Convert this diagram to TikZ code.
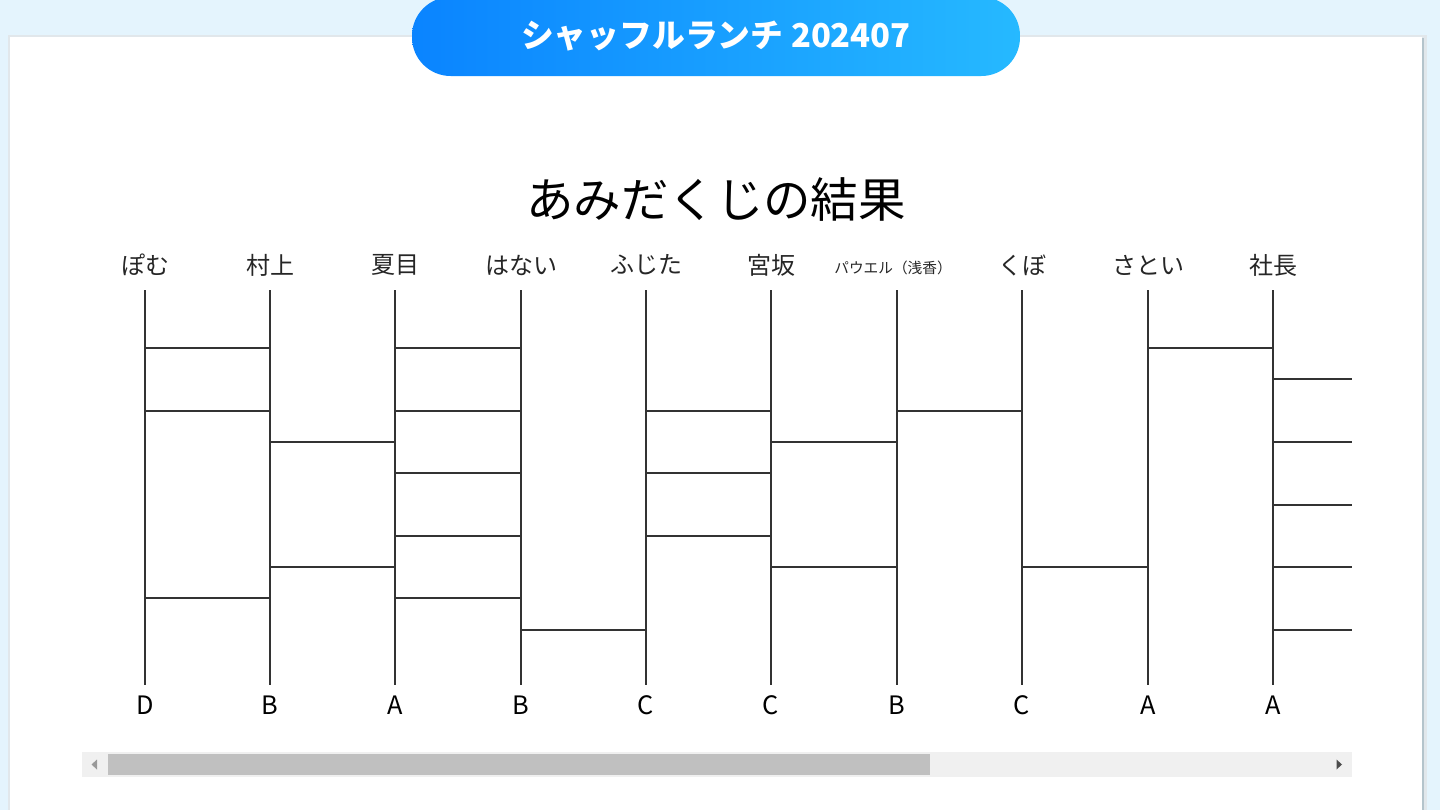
\documentclass[tikz,border=0pt]{standalone}
\usepackage{fontspec}
\usetikzlibrary{calc}
\setmainfont{Noto Sans CJK JP}
\definecolor{bgblue}{HTML}{E4F4FD}
\definecolor{pillL}{HTML}{0A84FF}
\definecolor{pillR}{HTML}{26B9FF}
\definecolor{ink}{HTML}{333333}
\definecolor{track}{HTML}{F0F0F0}
\definecolor{thumb}{HTML}{C0C0C0}
\definecolor{shadowc}{HTML}{B4C4CC}
\tikzset{
  rail/.style={draw=ink, line width=1.4pt},
  rung/.style={draw=ink, line width=1.4pt},
  toplabel/.style={font=\fontsize{18}{18}\selectfont, text=black!85, inner sep=0pt, anchor=center},
  botlabel/.style={font=\fontsize{19}{19}\selectfont, text=black, inner sep=0pt, anchor=center},
}
\begin{document}
\begin{tikzpicture}[x=0.75pt,y=-0.75pt]
\useasboundingbox (0,0) rectangle (1440,810);
\fill[bgblue] (0,0) rectangle (1440,810);
% card shadow and card
\fill[shadowc!40] (8,35) rectangle (1427,812);
\fill[shadowc] (11,38) rectangle (1424,812);
\fill[white] (10,37) rectangle (1422,812);
% pill header
\shade[left color=pillL, right color=pillR, rounded corners=29pt] (412,-3) rectangle (1020,76);
\node[font=\fontsize{24.6}{24.6}\selectfont\bfseries, text=white, inner sep=0pt] (hdr) at (716,36) {シャッフルランチ 202407};
% title
\node[font=\fontsize{35.6}{35.6}\selectfont, text=black, inner sep=0pt] (title) at (716,200) {あみだくじの結果};
% columns
\foreach \i/\x/\res in {0/145/D,1/270/B,2/395/A,3/521/B,4/646/C,5/771/C,6/897/B,7/1022/C,8/1148/A,9/1273/A}{
  \coordinate (t\i) at (\x,290);
  \coordinate (b\i) at (\x,685);
  \node[botlabel] (r\i) at (\x,705) {\res};
  \draw[rail] (t\i) -- (b\i);
}
\foreach \i/\x/\nm in {0/145/ぽむ,1/270/村上,2/395/夏目,3/521/はない,4/646/ふじた,5/771/宮坂,7/1022/くぼ,8/1148/さとい,9/1273/社長}{
  \node[toplabel] (n\i) at (\x,265) {\nm};
}
\node[font=\fontsize{11}{11}\selectfont, text=black!85, inner sep=0pt] (n6) at (893,268) {パウエル（浅香）};
\coordinate (t10) at (1352,290);
% rungs: column index and row index (y = 348 + k*31.3)
\foreach \c/\k in {0/0,0/2,0/8,
                   1/3,1/7,
                   2/0,2/2,2/4,2/6,2/8,
                   3/9,
                   4/2,4/4,4/6,
                   5/3,5/7,
                   6/2,
                   7/7,
                   8/0,
                   9/1,9/3,9/5,9/7,9/9}{
  \pgfmathtruncatemacro{\d}{\c+1}
  \pgfmathtruncatemacro{\off}{round(58+\k*31.3)}
  \draw[rung] ($(t\c)+(0,\off)$) -- ($(t\d)+(0,\off)$);
}
% scrollbar
\fill[track] (82,752) rectangle (1352,777);
\fill[thumb] (108,754) rectangle (930,775);
\fill[black!40] (91.5,764.5) -- (97,759.5) -- (97,769.5) -- cycle;
\fill[black!70] (1342,764.5) -- (1336.5,759.5) -- (1336.5,769.5) -- cycle;
\end{tikzpicture}
\end{document}
